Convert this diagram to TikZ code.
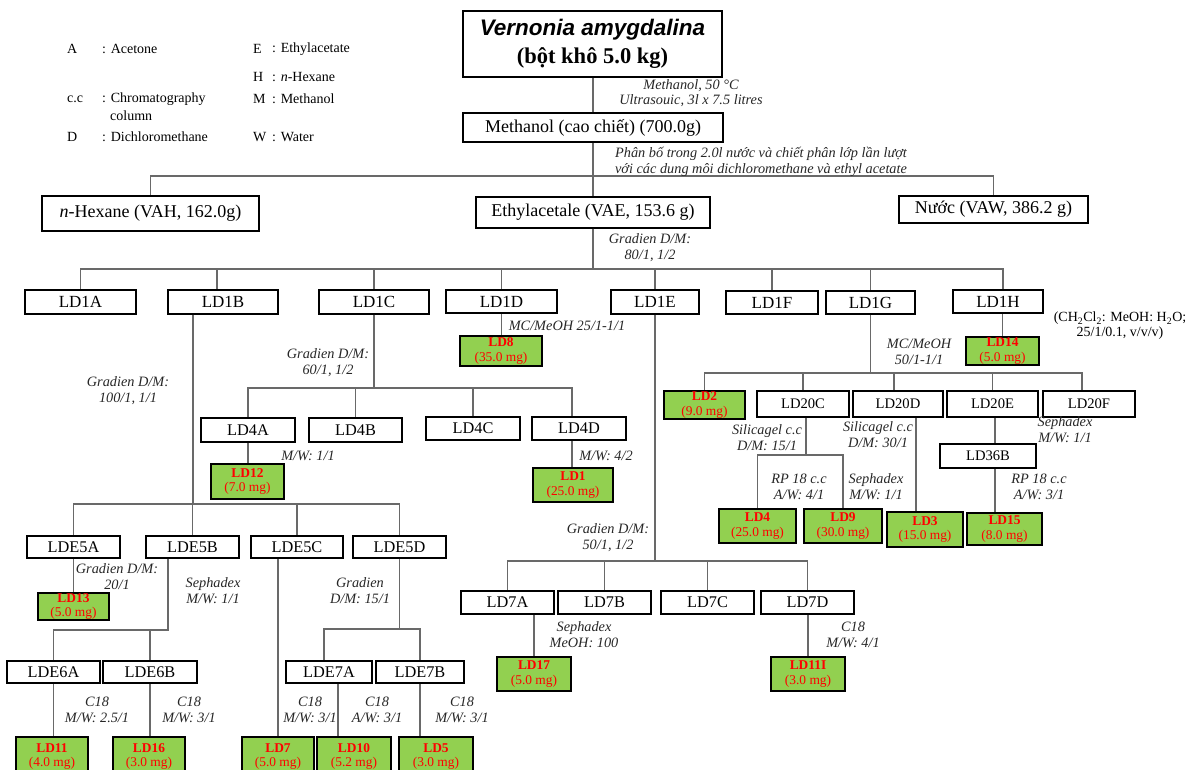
\documentclass[tikz,border=0pt]{standalone}
\usepackage{fontspec}
\setmainfont{Liberation Serif}
\newfontfamily\sansf{Liberation Sans}
\usetikzlibrary{calc}
\definecolor{gfill}{RGB}{146,208,80}
\definecolor{lnc}{RGB}{105,105,105}
\definecolor{redt}{RGB}{255,0,0}
\newcommand\bx[7]{\node[#6, minimum width={#4-#2}, minimum height={#5-#3}] (#1) at ({(#2+#4)/2},{(#3+#5)/2}) {#7};}
\tikzset{
 box/.style={draw=black, line width=1.5pt, fill=white, inner sep=0pt, align=center},
 bbig/.style={box, font=\fontsize{18}{21}\selectfont},
 bone/.style={box, font=\fontsize{17}{20}\selectfont},
 bmid/.style={box, font=\fontsize{16.3}{19}\selectfont},
 bsml/.style={box, font=\fontsize{14.6}{17}\selectfont},
 gb/.style={draw=black, line width=1.8pt, fill=gfill, inner sep=0pt, align=center, text=redt, font=\fontsize{13.4}{14.8}\selectfont},
 conn/.style={draw=lnc, line width=1.3pt},
 lab/.style={inner sep=0pt, align=center, font=\fontsize{14.3}{16}\selectfont\itshape, text=black!85},
 leg/.style={inner sep=0pt, anchor=west, font=\fontsize{14}{16}\selectfont},
}
\begin{document}
\begin{tikzpicture}[x=1pt,y=-1pt]
\useasboundingbox (0,0) rectangle (1193,769);
% legend
\node[leg] (lA) at (67,49) {A};
\node[leg] (lAt) at (102,49) {: Acetone};
\node[leg] (lE) at (253,49) {E};
\node[leg] (lEt) at (272,49) {: Ethylacetate};
\node[leg] (lH) at (253,77) {H};
\node[leg] (lHt) at (272,77) {: \textit{n}-Hexane};
\node[leg] (lC) at (67,99) {c.c};
\node[leg] (lCt) at (102,99) {: Chromatography};
\node[leg] (lCt2) at (110,116) {column};
\node[leg] (lM) at (253,99) {M};
\node[leg] (lMt) at (272,99) {: Methanol};
\node[leg] (lD) at (67,137) {D};
\node[leg] (lDt) at (102,137) {: Dichloromethane};
\node[leg] (lW) at (253,137) {W};
\node[leg] (lWt) at (272,137) {: Water};
% main boxes
\bx{va}{463}{11}{722}{77}{box, font=\fontsize{22.5}{28}\selectfont}{{\sansf\bfseries\itshape Vernonia amygdalina}\\{\bfseries (bột khô 5.0 kg)}}
\bx{meth}{463}{113}{723}{142}{bbig}{Methanol (cao chiết) (700.0g)}
\bx{hex}{42}{196}{259}{231}{bbig}{\textit{n}-Hexane (VAH, 162.0g)}
\bx{eth}{476}{197}{710}{228}{bbig}{Ethylacetale (VAE, 153.6 g)}
\bx{nuoc}{899}{196}{1088}{223}{bbig}{Nước (VAW, 386.2 g)}
% LD1 row
\bx{ld1a}{25}{290}{136}{314}{bone}{LD1A}
\bx{ld1b}{168}{290}{278}{314}{bone}{LD1B}
\bx{ld1c}{319}{290}{429}{314}{bone}{LD1C}
\bx{ld1d}{446}{290}{557}{313}{bone}{LD1D}
\bx{ld1e}{611}{290}{699}{314}{bone}{LD1E}
\bx{ld1f}{726}{291}{818}{314}{bone}{LD1F}
\bx{ld1g}{826}{291}{915}{314}{bone}{LD1G}
\bx{ld1h}{953}{290}{1043}{313}{bone}{LD1H}
% LD4 row
\bx{ld4a}{201}{418}{295}{442}{bmid}{LD4A}
\bx{ld4b}{309}{418}{402}{442}{bmid}{LD4B}
\bx{ld4c}{426}{417}{520}{440}{bmid}{LD4C}
\bx{ld4d}{532}{417}{626}{440}{bmid}{LD4D}
% LD20 row
\bx{ld20c}{757}{391}{849}{417}{bsml}{LD20C}
\bx{ld20d}{853}{391}{943}{417}{bsml}{LD20D}
\bx{ld20e}{947}{391}{1038}{417}{bsml}{LD20E}
\bx{ld20f}{1043}{391}{1135}{417}{bsml}{LD20F}
\bx{ld36b}{940}{444}{1036}{468}{bsml}{LD36B}
% LDE rows
\bx{lde5a}{27}{536}{120}{558}{bmid}{LDE5A}
\bx{lde5b}{146}{536}{239}{558}{bmid}{LDE5B}
\bx{lde5c}{251}{536}{343}{558}{bmid}{LDE5C}
\bx{lde5d}{353}{536}{446}{558}{bmid}{LDE5D}
\bx{lde6a}{7}{661}{100}{683}{bmid}{LDE6A}
\bx{lde6b}{103}{661}{197}{683}{bmid}{LDE6B}
\bx{lde7a}{286}{661}{372}{683}{bmid}{LDE7A}
\bx{lde7b}{376}{661}{464}{683}{bmid}{LDE7B}
% LD7 row
\bx{ld7a}{461}{591}{554}{614}{bmid}{LD7A}
\bx{ld7b}{558}{591}{651}{614}{bmid}{LD7B}
\bx{ld7c}{661}{591}{754}{614}{bmid}{LD7C}
\bx{ld7d}{761}{591}{854}{614}{bmid}{LD7D}
% green boxes
\bx{ld8}{460}{336}{542}{366}{gb}{\textbf{LD8}\\(35.0 mg)}
\bx{ld14}{966}{337}{1039}{365}{gb}{\textbf{LD14}\\(5.0 mg)}
\bx{ld2}{664}{391}{745}{419}{gb}{\textbf{LD2}\\(9.0 mg)}
\bx{ld12}{211}{464}{284}{499}{gb}{\textbf{LD12}\\(7.0 mg)}
\bx{ld1}{533}{468}{613}{502}{gb}{\textbf{LD1}\\(25.0 mg)}
\bx{ld4}{719}{509}{796}{543}{gb}{\textbf{LD4}\\(25.0 mg)}
\bx{ld9}{804}{509}{882}{543}{gb}{\textbf{LD9}\\(30.0 mg)}
\bx{ld3}{887}{512}{963}{547}{gb}{\textbf{LD3}\\(15.0 mg)}
\bx{ld15}{967}{513}{1042}{545}{gb}{\textbf{LD15}\\(8.0 mg)}
\bx{ld13}{38}{593}{109}{620}{gb}{\textbf{LD13}\\(5.0 mg)}
\bx{ld17}{497}{657}{571}{691}{gb}{\textbf{LD17}\\(5.0 mg)}
\bx{ld11i}{771}{657}{845}{691}{gb}{\textbf{LD11I}\\(3.0 mg)}
\bx{ld11}{16}{737}{88}{776}{gb}{\textbf{LD11}\\(4.0 mg)}
\bx{ld16}{113}{737}{185}{776}{gb}{\textbf{LD16}\\(3.0 mg)}
\bx{ld7}{242}{737}{314}{776}{gb}{\textbf{LD7}\\(5.0 mg)}
\bx{ld10}{317}{737}{391}{776}{gb}{\textbf{LD10}\\(5.2 mg)}
\bx{ld5}{399}{737}{473}{776}{gb}{\textbf{LD5}\\(3.0 mg)}
% connectors
\draw[conn] (meth.north) -- (meth.north |- va.south);
\coordinate (b0) at (0,176);
\foreach \c in {hex,eth,nuoc}{\draw[conn] (meth.south) |- (b0 -| \c.north) -- (\c.north);}
\coordinate (b1) at (0,269);
\coordinate (ld1bt) at ([xshift=-6]ld1b.north);
\coordinate (ld1ht) at ([xshift=5]ld1h.north);
\foreach \c in {ld1a.north,ld1bt,ld1c.north,ld1d.north,ld1e.north,ld1f.north,ld1g.north,ld1ht}{\draw[conn] (eth.south) |- (b1 -| \c) -- (\c);}
\coordinate (ld1bb) at ([xshift=-30]ld1b.south);
\coordinate (b2) at (0,504);
\foreach \c in {lde5a,lde5b,lde5c,lde5d}{\draw[conn] (ld1bb) |- (b2 -| \c.north) -- (\c.north);}
\coordinate (b3) at (0,388);
\coordinate (ld4dt) at ([xshift=-7]ld4d.north);
\foreach \c in {ld4a.north,ld4b.north,ld4c.north,ld4dt}{\draw[conn] (ld1c.south) |- (b3 -| \c) -- (\c);}
\draw[conn] (ld4a.south) -- (ld4a.south |- ld12.north);
\coordinate (ld4db) at ([xshift=-7]ld4d.south);
\draw[conn] (ld4db) -- (ld4db |- ld1.north);
\draw[conn] (ld1d.south) -- (ld1d.south |- ld8.north);
\coordinate (b4) at (0,561);
\foreach \c in {ld7a,ld7b,ld7c,ld7d}{\draw[conn] (ld1e.south) |- (b4 -| \c.north) -- (\c.north);}
\draw[conn] (ld17.north) -- (ld17.north |- ld7a.south);
\draw[conn] (ld11i.north) -- (ld11i.north |- ld7d.south);
\coordinate (b5) at (0,373);
\coordinate (ld20dt) at ([xshift=-4]ld20d.north);
\coordinate (ld20ft) at ([xshift=-7]ld20f.north);
\foreach \c in {ld2.north,ld20c.north,ld20dt,ld20e.north,ld20ft}{\draw[conn] (ld1g.south) |- (b5 -| \c) -- (\c);}
\draw[conn] (ld14.north) -- (ld14.north |- ld1h.south);
\coordinate (b6) at (0,455);
\coordinate (ld20cb) at ([xshift=3]ld20c.south);
\foreach \c in {ld4,ld9}{\draw[conn] (ld20cb) |- (b6 -| \c.north) -- (\c.north);}
\coordinate (ld20db) at ([xshift=18]ld20d.south);
\draw[conn] (ld20db) -- (ld20db |- ld3.north);
\coordinate (ld20eb) at ([xshift=2.5]ld20e.south);
\draw[conn] (ld20eb) -- (ld20eb |- ld36b.north);
\draw[conn] (ld20eb |- ld36b.south) -- (ld20eb |- ld15.north);
\draw[conn] (lde5a.south) -- (lde5a.south |- ld13.north);
\coordinate (lde5bb) at ([xshift=-24.5]lde5b.south);
\coordinate (b7) at (0,630);
\foreach \c in {lde6a,lde6b}{\draw[conn] (lde5bb) |- (b7 -| \c.north) -- (\c.north);}
\draw[conn] (lde6a.south) -- (lde6a.south |- ld11.north);
\draw[conn] (lde6b.south) -- (lde6b.south |- ld16.north);
\draw[conn] (ld7.north) -- (ld7.north |- lde5c.south);
\coordinate (b8) at (0,629);
\coordinate (lde7at) at ([xshift=-5]lde7a.north);
\foreach \c in {lde7at,lde7b.north}{\draw[conn] (lde5d.south) |- (b8 -| \c) -- (\c);}
\coordinate (lde7ab) at ([xshift=9]lde7a.south);
\draw[conn] (lde7ab) -- (lde7ab |- ld10.north);
\draw[conn] (lde7b.south) -- (lde7b.south |- ld5.north);
% labels
\node[lab, font=\fontsize{14.3}{14.5}\selectfont\itshape] (t1) at (691,93) {Methanol, 50 °C\\Ultrasouic, 3l x 7.5 litres};
\node[lab] (t2) at (761,162) {Phân bố trong 2.0l nước và chiết phân lớp lần lượt\\với các dung môi dichloromethane và ethyl acetate};
\node[lab] (t3) at (650,248) {Gradien D/M:\\80/1, 1/2};
\node[lab] (t4) at (128,391) {Gradien D/M:\\100/1, 1/1};
\node[lab] (t5) at (328,363) {Gradien D/M:\\60/1, 1/2};
\node[lab] (t6) at (308,456) {M/W: 1/1};
\node[lab] (t7) at (606,456) {M/W: 4/2};
\node[lab] (t8) at (567,326) {MC/MeOH 25/1-1/1};
\node[lab] (t9) at (608,538) {Gradien D/M:\\50/1, 1/2};
\node[lab] (t10) at (584,635) {Sephadex\\MeOH: 100};
\node[lab] (t11) at (853,635) {C18\\M/W: 4/1};
\node[lab] (t12) at (919,352) {MC/MeOH\\50/1-1/1};
\node[lab, font=\fontsize{14}{15}\selectfont, text=black] (t13) at (1120,326) {(CH\textsubscript{2}Cl\textsubscript{2}: MeOH: H\textsubscript{2}O;\\25/1/0.1, v/v/v)};
\node[lab] (t14) at (767,438) {Silicagel c.c\\D/M: 15/1};
\node[lab] (t15) at (878,435) {Silicagel c.c\\D/M: 30/1};
\node[lab] (t16) at (1065,430) {Sephadex\\M/W: 1/1};
\node[lab] (t17) at (799,487) {RP 18 c.c\\A/W: 4/1};
\node[lab] (t18) at (876,487) {Sephadex\\M/W: 1/1};
\node[lab] (t19) at (1039,487) {RP 18 c.c\\A/W: 3/1};
\node[lab] (t20) at (117,577) {Gradien D/M:\\20/1};
\node[lab] (t21) at (213,591) {Sephadex\\M/W: 1/1};
\node[lab] (t22) at (360,591) {Gradien\\D/M: 15/1};
\node[lab] (t23) at (97,710) {C18\\M/W: 2.5/1};
\node[lab] (t24) at (189,710) {C18\\M/W: 3/1};
\node[lab] (t25) at (310,710) {C18\\M/W: 3/1};
\node[lab] (t26) at (377,710) {C18\\A/W: 3/1};
\node[lab] (t27) at (462,710) {C18\\M/W: 3/1};
\end{tikzpicture}
\end{document}
